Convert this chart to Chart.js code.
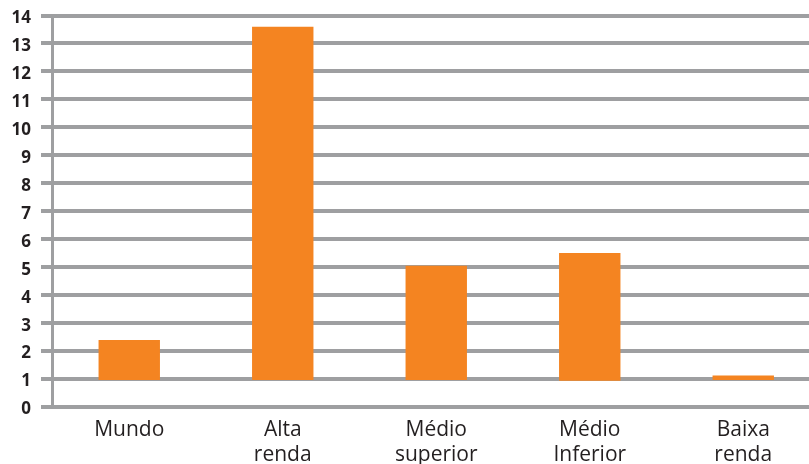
<!DOCTYPE html>
<html>
<head>
<meta charset="utf-8">
<script src="https://cdn.jsdelivr.net/npm/chart.js@4.4.1/dist/chart.umd.min.js"></script>
<style>
    html, body { margin: 0; padding: 0; background: #fff; overflow: hidden; }
    #wrap { width: 809px; height: 464px; overflow: hidden; }
</style>
</head>
<body>
<div id="wrap"><canvas id="barChart" width="820" height="464"></canvas></div>
<script>
const categories = [['Mundo'], ['Alta', 'renda'], ['Médio', 'superior'], ['Médio', 'Inferior'], ['Baixa', 'renda']];
const barStart = [0.95, 0.95, 0.95, 0.92, 0.95];
const barEnd = [2.38, 13.6, 5.04, 5.5, 1.11];
const yTicks = [0, 1, 2, 3, 4, 5, 6, 7, 8, 9, 10, 11, 12, 13, 14];

const gridColor = '#9e9fa1';
const textColor = '#231f20';

const ranges = barStart.map((lo, i) => [lo, barEnd[i]]);

new Chart(document.getElementById('barChart'), {
    type: 'bar',
    data: {
        labels: categories,
        datasets: [{
            data: ranges,
            backgroundColor: '#f48421',
            borderWidth: 0,
            borderSkipped: false,
            barPercentage: 0.4,
            categoryPercentage: 1
        }]
    },
    options: {
        responsive: false,
        animation: false,
        layout: { padding: { top: 15.5, left: 0, right: 0, bottom: 0 } },
        plugins: {
            legend: { display: false },
            tooltip: { enabled: false }
        },
        scales: {
            x: {
                offset: true,
                grid: { display: false, drawTicks: false },
                border: { display: false },
                ticks: {
                    color: textColor,
                    font: { family: 'Open Sans', size: 21, lineHeight: 1.19 },
                    padding: 11,
                    maxRotation: 0,
                    autoSkip: false
                },
                afterFit: (scale) => {
                    scale.height = 57.5;
                    scale.paddingLeft = 0;
                    scale.paddingRight = 0;
                }
            },
            y: {
                min: 0,
                max: 14,
                afterBuildTicks: (scale) => {
                    scale.ticks = yTicks.map(v => ({ value: v }));
                },
                grid: {
                    color: gridColor,
                    lineWidth: 4,
                    tickLength: 11.5,
                    tickColor: gridColor,
                    tickWidth: 4
                },
                border: { display: true, color: gridColor, width: 3 },
                ticks: {
                    color: textColor,
                    font: { family: 'Open Sans', size: 17, weight: 'bold' },
                    padding: 10,
                    labelOffset: 3
                },
                afterFit: (scale) => {
                    scale.width = 52.5;
                    scale.paddingTop = 0;
                    scale.paddingBottom = 0;
                }
            }
        }
    }
});
</script>
</body>
</html>
